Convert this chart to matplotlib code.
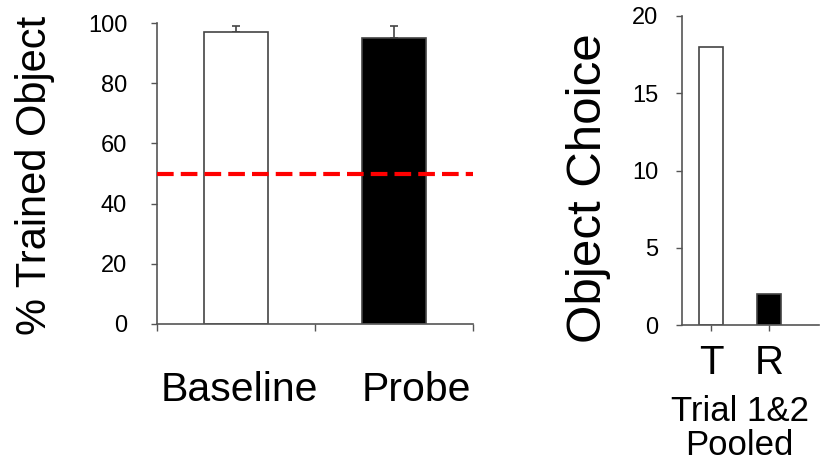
import matplotlib
matplotlib.use('Agg')
import matplotlib.pyplot as plt
from matplotlib.ticker import FixedLocator
from matplotlib.transforms import ScaledTranslation

plt.rcParams['font.family'] = ['Liberation Sans', 'DejaVu Sans']

# left panel: % choice of trained object
conditions = ['Baseline', 'Probe']
pct_trained = [97, 95]
pct_err = [2, 4]
chance_level = 50

# right panel: pooled object choice counts
choices = ['T', 'R']
choice_counts = [18, 2]

AXIS_COLOR = '#555555'
EDGE_COLOR = '#444444'
BAR_COLORS = ['white', 'black']

fig = plt.figure(figsize=(8.23, 4.70), dpi=100)

# ---- left panel ----
ax1 = fig.add_axes([157/823, 1 - 324/470, 316/823, 301/470])
x1 = range(len(conditions))
ax1.bar(x1, pct_trained, width=0.4, color=BAR_COLORS, edgecolor=EDGE_COLOR, linewidth=1.2, zorder=2)
ax1.errorbar(x1, pct_trained, yerr=[[0, 0], pct_err], fmt='none', ecolor=EDGE_COLOR,
             elinewidth=1.2, capsize=3, capthick=1.2, zorder=1)
ax1.axhline(chance_level, color='#ff0000', linewidth=3, dashes=(4, 1.7), zorder=3)
ax1.set_xlim(-0.5, 1.5)
ax1.set_ylim(0, 100)
ax1.set_yticks(range(0, 101, 20))
ax1.set_xticks(list(x1))
ax1.set_xticklabels(conditions, fontsize=29.5)
ax1.xaxis.set_minor_locator(FixedLocator([-0.5, 0.5, 1.5]))
ax1.tick_params(axis='x', which='major', length=0, pad=34)
ax1.tick_params(axis='x', which='minor', length=5, width=1, color=AXIS_COLOR)
ax1.tick_params(axis='y', length=4.5, width=1, color=AXIS_COLOR, labelsize=17, pad=17)
ax1.set_ylabel('% Trained Object', fontsize=30)
ax1.yaxis.set_label_coords(-0.386, 0.495)
ax1.yaxis.label.set_va('center')

# the labels under the bars sit a little right of the bar centres
for lab, dx in zip(ax1.get_xticklabels(), [3, 22]):
    lab.set_transform(lab.get_transform() + ScaledTranslation(dx / 100, 0, fig.dpi_scale_trans))

# ---- right panel ----
ax2 = fig.add_axes([682/823, 1 - 325/470, 137/823, 309/470])
x2 = range(len(choices))
ax2.bar(x2, choice_counts, width=0.4, color=BAR_COLORS, edgecolor=EDGE_COLOR, linewidth=1.2, zorder=2)
ax2.set_xlim(-0.5, 1.86)
ax2.set_ylim(0, 20)
ax2.set_yticks(range(0, 21, 5))
ax2.set_xticks(list(x2))
ax2.set_xticklabels(choices, fontsize=29)
ax2.tick_params(axis='x', length=4.5, width=1, color=AXIS_COLOR, pad=9)
ax2.tick_params(axis='y', length=4.5, width=1, color=AXIS_COLOR, labelsize=17, pad=12.5)
ax2.set_ylabel('Object Choice', fontsize=35.5)
ax2.yaxis.set_label_coords(-0.679, 0.443)
ax2.yaxis.label.set_va('center')
ax2.set_xlabel('Trial 1&2\nPooled', fontsize=25, linespacing=1.05)
ax2.xaxis.set_label_coords(0.42, -0.225)

for ax in (ax1, ax2):
    for side in ('top', 'right'):
        ax.spines[side].set_visible(False)
    for side in ('left', 'bottom'):
        ax.spines[side].set_color(AXIS_COLOR)
        ax.spines[side].set_linewidth(1.2)

fig.savefig('out.png', dpi=100)
